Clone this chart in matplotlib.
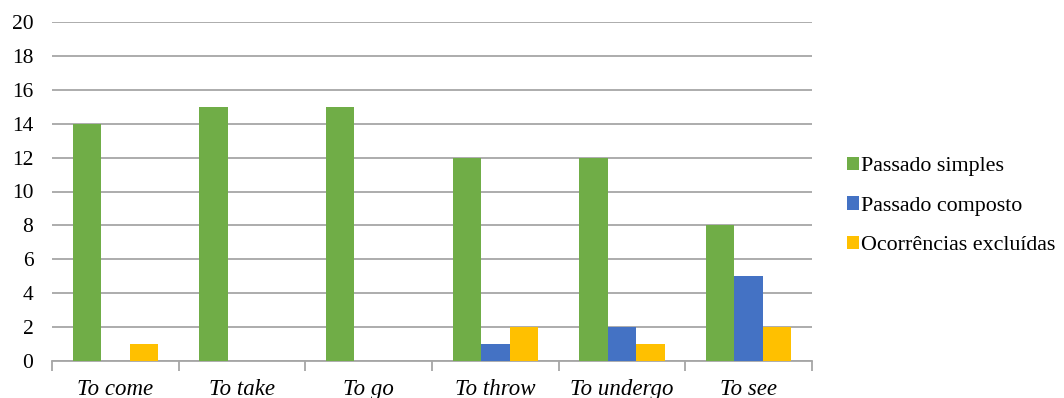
import matplotlib
matplotlib.use("Agg")
import matplotlib.pyplot as plt
import numpy as np

categories = ["To come", "To take", "To go", "To throw", "To undergo", "To see"]
series_names = ["Passado simples", "Passado composto", "Ocorrências excluídas"]
passado_simples = [14, 15, 15, 12, 12, 8]
passado_composto = [0, 0, 0, 1, 2, 5]
ocorrencias_excluidas = [1, 0, 0, 2, 1, 2]
y_ticks = [0, 2, 4, 6, 8, 10, 12, 14, 16, 18, 20]

colors = ["#70AD47", "#4472C4", "#FFC000"]

plt.rcParams['font.family'] = ['Liberation Serif', 'DejaVu Serif']

fig = plt.figure(figsize=(10.64, 3.98), dpi=100)
ax = fig.add_axes([52/1064, 1 - 361/398, (812-52)/1064, (361-22)/398])

x = np.arange(len(categories))
w = 0.225
for i, (vals, name) in enumerate(zip([passado_simples, passado_composto, ocorrencias_excluidas], series_names)):
    ax.bar(x + (i - 1) * w, vals, width=w, color=colors[i], label=name, zorder=3)

ax.set_xlim(-0.5, len(categories) - 0.5)
ax.set_ylim(0, 20)
ax.set_yticks(y_ticks)
ax.set_yticklabels([str(v) for v in y_ticks], fontsize=15.5)
ax.yaxis.grid(True, color="#a6a6a6", linewidth=1.3, zorder=0)
ax.set_axisbelow(True)
ax.tick_params(axis='y', length=0, pad=13.5)

ax.set_xticks(x)
ax.set_xticklabels(categories, fontsize=16.5, style='italic')
ax.tick_params(axis='x', which='major', length=0, pad=13)
ax.set_xticks(np.arange(-0.5, len(categories), 1), minor=True)
ax.tick_params(axis='x', which='minor', length=7, color="#a6a6a6", width=1.3, direction='out')

for s in ["left", "right", "top"]:
    ax.spines[s].set_visible(False)
ax.spines["bottom"].set_color("#a6a6a6")
ax.spines["bottom"].set_linewidth(1.3)

leg = fig.legend(loc="center left", bbox_to_anchor=(827/1064, 1 - 206/398), frameon=False,
                 fontsize=15.8, handlelength=0.55, handleheight=0.55, handletextpad=0.12,
                 labelspacing=0.92)

fig.savefig("out.png", dpi=100)
